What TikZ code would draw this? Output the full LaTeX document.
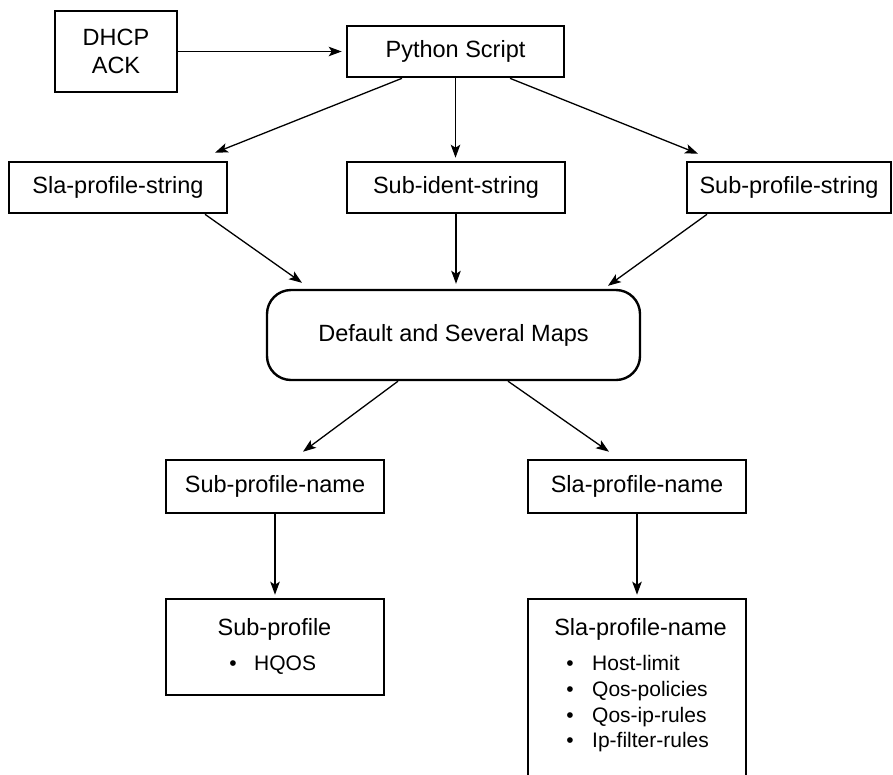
\documentclass[tikz,border=0pt]{standalone}
\usepackage{fontspec}
\setmainfont{Liberation Sans}
\usetikzlibrary{arrows.meta,calc}
\begin{document}
\begin{tikzpicture}[x=1pt,y=-1pt,
  box/.style={draw,line width=2.6pt,inner sep=0pt,font=\fontsize{23.5}{27}\selectfont,align=center},
  roundbox/.style={draw,line width=2.4pt,inner sep=0pt,rounded corners=24pt,font=\fontsize{23.5}{27}\selectfont},
  arr/.style={line width=1.3pt,-{Stealth[length=13pt,width=9.5pt,inset=3pt]}},
  title/.style={anchor=base,inner sep=0pt,font=\fontsize{23.5}{27}\selectfont},
  item/.style={anchor=base west,inner sep=0pt,font=\fontsize{21}{25}\selectfont},
  dot/.style={anchor=base,inner sep=0pt,font=\fontsize{21}{25}\selectfont}
]
\useasboundingbox (0,0) rectangle (893,774);
\clip (0,0) rectangle (893,774);

% nodes
\node[box,minimum width=122pt,minimum height=81pt,font=\fontsize{23.5}{27.5}\selectfont] (dhcp) at (116,51.5) {DHCP\\ACK};
\node[box,minimum width=217pt,minimum height=51pt] (py) at (455.5,51.5) {Python Script};
\node[box,minimum width=218pt,minimum height=51pt] (slastr) at (118,187.5) {Sla-profile-string};
\node[box,minimum width=218pt,minimum height=51pt] (subid) at (456,187.5) {Sub-ident-string};
\node[box,minimum width=204pt,minimum height=51pt] (subpstr) at (789,187.5) {Sub-profile-string};
\node[roundbox,minimum width=373pt,minimum height=90pt] (def) at (453.5,335) {Default and Several Maps};
\node[box,minimum width=218pt,minimum height=53pt] (subname) at (275,486.5) {Sub-profile-name};
\node[box,minimum width=218pt,minimum height=53pt] (slaname) at (637,486.5) {Sla-profile-name};
\node[box,minimum width=218pt,minimum height=96pt] (subprof) at (275,647) {};
\node[box,minimum width=218pt,minimum height=201pt] (slabig) at (637,699.5) {};

% contents of the lower boxes
\node[title] (subproft) at (274.5,635) {Sub-profile};
\node[dot] (b0) at (233,670) {•};
\node[item] (i0) at (254,670) {HQOS};

\node[title] (slabigt) at (640.5,635) {Sla-profile-name};
\node[dot] (b1) at (570,670) {•};
\node[item] (i1) at (592,670) {Host-limit};
\node[dot] (b2) at (570,696) {•};
\node[item] (i2) at (592,696) {Qos-policies};
\node[dot] (b3) at (570,722) {•};
\node[item] (i3) at (592,722) {Qos-ip-rules};
\node[dot] (b4) at (570,747.5) {•};
\node[item] (i4) at (592,747.5) {Ip-filter-rules};

% connectors
\draw[arr,shorten >=4pt] (dhcp.east) -- (py.west);
\draw[arr] ($(py.south)+(-53.5,0)$) -- ($(slastr.north)+(97,-8)$);
\draw[arr,shorten >=3pt] (py.south) -- (py.south |- subid.north);
\draw[arr] ($(py.south)+(54.5,0)$) -- ($(subpstr.north)+(-91,-7)$);
\draw[arr] ($(slastr.south)+(87,0)$) -- ($(def.north)+(-151.5,-6)$);
\draw[arr,shorten >=5pt] (subid.south) -- (subid.south |- def.north);
\draw[arr] ($(subpstr.south)+(-82,0)$) -- ($(def.north)+(154.5,-3)$);
\draw[arr] ($(def.south)+(-55.5,0)$) -- ($(subname.north)+(28,-7)$);
\draw[arr] ($(def.south)+(54.5,0)$) -- ($(slaname.north)+(-28,-7)$);
\draw[arr,shorten >=3pt] (subname.south) -- (subprof.north);
\draw[arr,shorten >=3pt] (slaname.south) -- (slabig.north);
\end{tikzpicture}
\end{document}
